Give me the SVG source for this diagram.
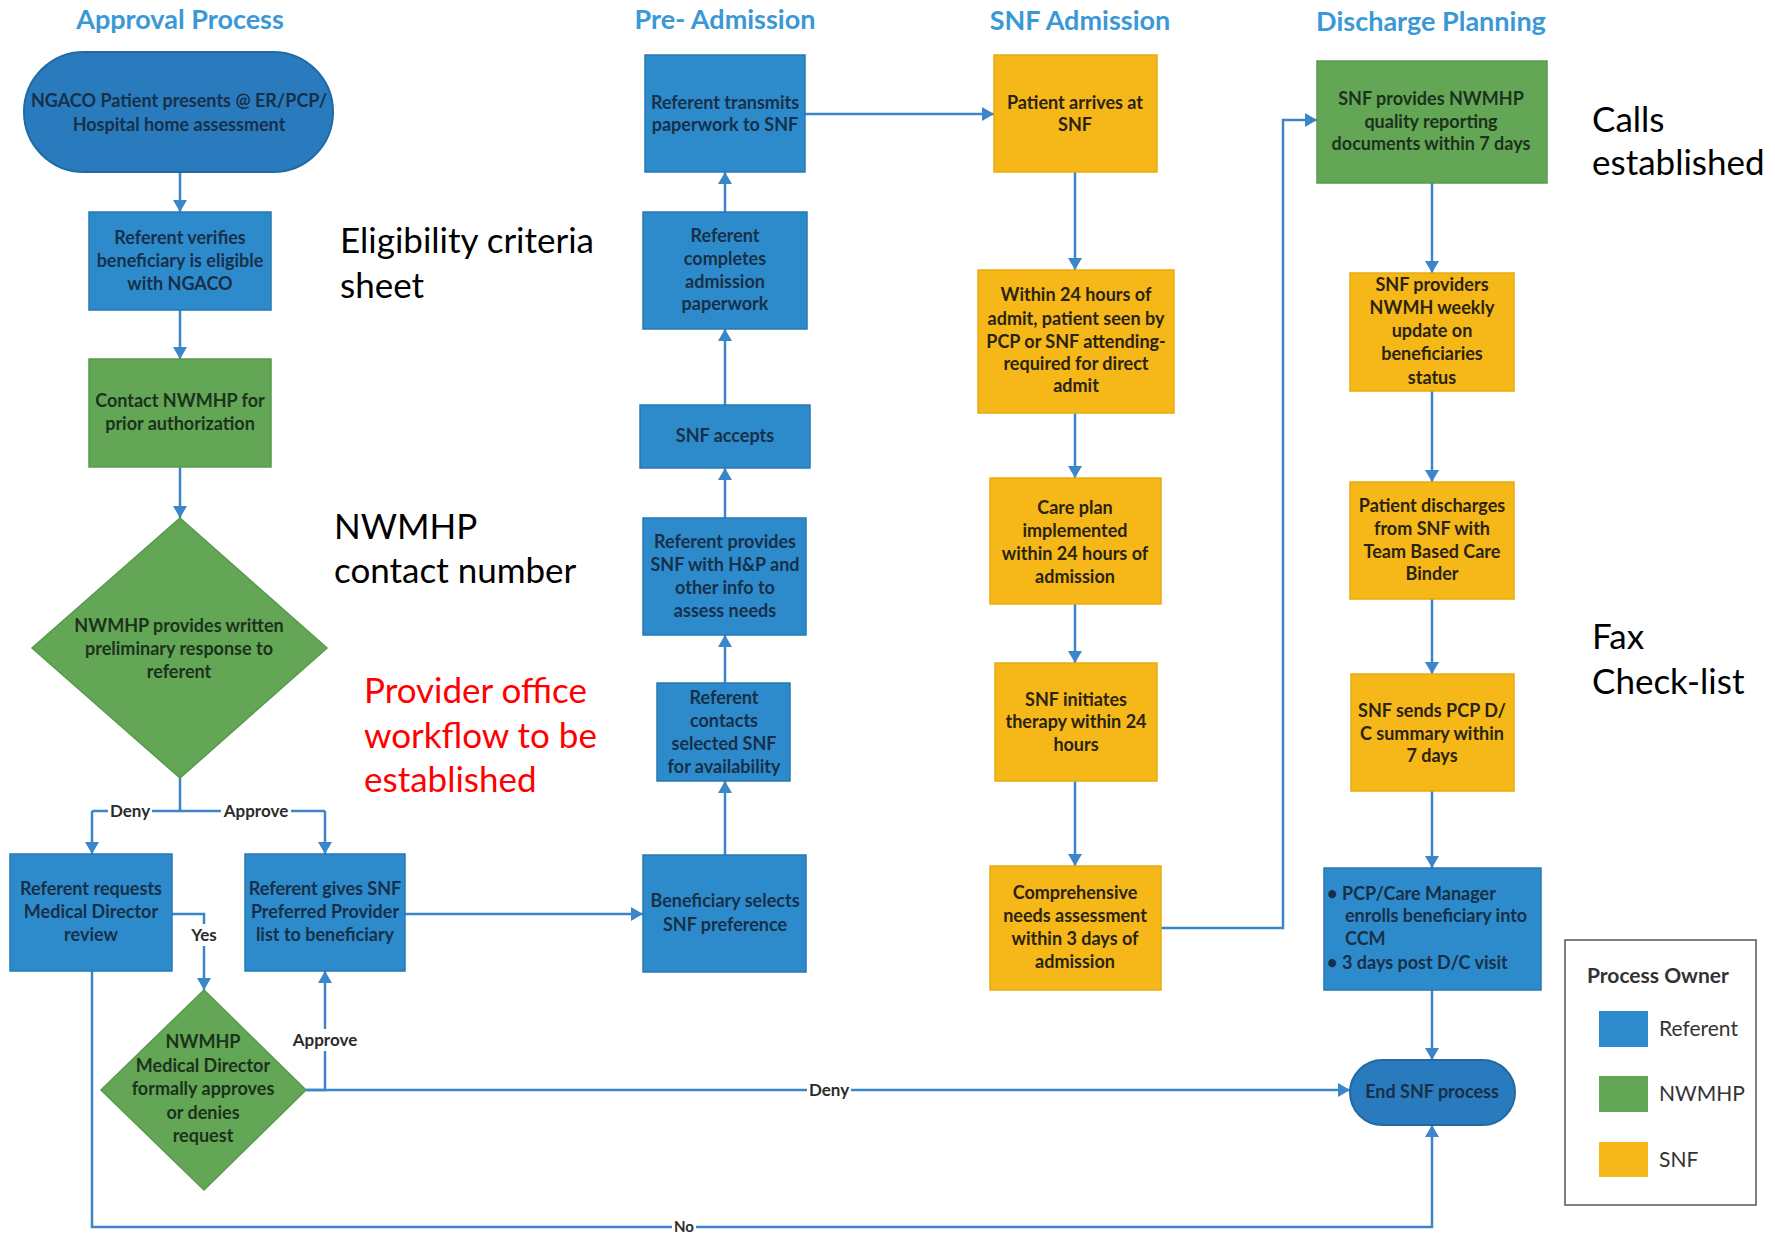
<svg xmlns="http://www.w3.org/2000/svg" width="1775" height="1236" viewBox="0 0 1775 1236">
<style>
.bg{fill:#ffffff}
.ref{fill:#2d8bcb;stroke:#2779b3;stroke-width:1.5}
.term{fill:#2a7bbd;stroke:#1f6aa5;stroke-width:2}
.nw{fill:#62a656;stroke:#58994d;stroke-width:1.5}
.snf{fill:#f6b818;stroke:#e8ab10;stroke-width:1.5}
.t{font-family:Lato,"Liberation Sans",sans-serif;font-size:18px;font-weight:bold;text-anchor:middle}
.tb{fill:#17304a}
.tg{fill:#1c321c}
.ty{fill:#2a2310}
.hdr{font-family:Lato,"Liberation Sans",sans-serif;font-size:27px;font-weight:bold;fill:#3b98d6;text-anchor:middle}
.ann{font-family:Lato,"Liberation Sans",sans-serif;font-size:35px;fill:#000000}
.red{fill:#ff0000}
.ln{fill:none;stroke:#3a86c8;stroke-width:2.5}
.arr{marker-end:url(#ah)}
.lbl{font-family:Lato,"Liberation Sans",sans-serif;font-size:17px;font-weight:bold;fill:#2b2b2b;text-anchor:middle}
.lblbg{fill:#ffffff}
.leg{font-family:Lato,"Liberation Sans",sans-serif;fill:#333333}
</style>
<defs>
<marker id="ah" viewBox="0 0 12 14" refX="12" refY="7" markerWidth="12" markerHeight="14" markerUnits="userSpaceOnUse" orient="auto">
<path d="M0,0 L12,7 L0,14 z" fill="#3a86c8"/>
</marker>
</defs>
<rect class="bg" x="0" y="0" width="1775" height="1236"/>

<g id="headers">
<text class="hdr" x="180" y="29">Approval Process</text>
<text class="hdr" x="725" y="29">Pre- Admission</text>
<text class="hdr" x="1080" y="30">SNF Admission</text>
<text class="hdr" x="1431" y="31">Discharge Planning</text>
</g>

<g id="connectors">
<path class="ln arr" d="M180,172 V212"/>
<path class="ln arr" d="M180,310 V359"/>
<path class="ln arr" d="M180,467 V518"/>
<path class="ln" d="M180,778 V811 M92,811 H325"/>
<path class="ln arr" d="M92,811 V854"/>
<path class="ln arr" d="M325,811 V854"/>
<path class="ln arr" d="M172,914 H204 V990"/>
<path class="ln arr" d="M306,1090 H325 V971"/>
<path class="ln arr" d="M306,1090 H1350"/>
<path class="ln arr" d="M92,971 V1227 H1432 V1125"/>
<path class="ln arr" d="M405,914 H643"/>
<path class="ln arr" d="M725,855 V781"/>
<path class="ln arr" d="M725,683 V635"/>
<path class="ln arr" d="M725,518 V468"/>
<path class="ln arr" d="M725,405 V329"/>
<path class="ln arr" d="M725,212 V172"/>
<path class="ln arr" d="M805,114 H994"/>
<path class="ln arr" d="M1075,172 V270"/>
<path class="ln arr" d="M1075,413 V478"/>
<path class="ln arr" d="M1075,604 V663"/>
<path class="ln arr" d="M1075,781 V866"/>
<path class="ln arr" d="M1161,928 H1283 V120 H1317"/>
<path class="ln arr" d="M1432,183 V273"/>
<path class="ln arr" d="M1432,391 V482"/>
<path class="ln arr" d="M1432,599 V674"/>
<path class="ln arr" d="M1432,791 V868"/>
<path class="ln arr" d="M1432,990 V1060"/>
<rect class="lblbg" x="108" y="800" width="44" height="22"/>
<text class="lbl" x="130" y="817">Deny</text>
<rect class="lblbg" x="221" y="800" width="70" height="22"/>
<text class="lbl" x="256" y="817">Approve</text>
<rect class="lblbg" x="188" y="924" width="32" height="22"/>
<text class="lbl" x="204" y="941">Yes</text>
<rect class="lblbg" x="290" y="1029" width="70" height="22"/>
<text class="lbl" x="325" y="1046">Approve</text>
<rect class="lblbg" x="807" y="1079" width="44" height="22"/>
<text class="lbl" x="829" y="1096">Deny</text>
<rect class="lblbg" x="672" y="1220" width="24" height="14"/>
<text class="lbl" x="684" y="1232" style="font-size:15px">No</text>
</g>

<g id="n-start">
<rect class="term" x="24" y="52" width="309" height="120" rx="60" ry="60"/>
<text class="t tb" x="179" y="107">NGACO Patient presents @ ER/PCP/</text>
<text class="t tb" x="179" y="131">Hospital home assessment</text>
</g>
<g id="n-verify">
<rect class="ref" x="89" y="212" width="182" height="98"/>
<text class="t tb" x="180" y="244">Referent verifies</text>
<text class="t tb" x="180" y="267">beneficiary is eligible</text>
<text class="t tb" x="180" y="290">with NGACO</text>
</g>
<g id="n-contact">
<rect class="nw" x="89" y="359" width="182" height="108"/>
<text class="t tg" x="180" y="407">Contact NWMHP for</text>
<text class="t tg" x="180" y="430">prior authorization</text>
</g>
<g id="n-prelim">
<polygon class="nw" points="180,518 327,648 180,778 32,648"/>
<text class="t tg" x="179" y="632">NWMHP provides written</text>
<text class="t tg" x="179" y="655">preliminary response to</text>
<text class="t tg" x="179" y="678">referent</text>
</g>
<g id="n-mdreview">
<rect class="ref" x="10" y="854" width="162" height="117"/>
<text class="t tb" x="91" y="895">Referent requests</text>
<text class="t tb" x="91" y="918">Medical Director</text>
<text class="t tb" x="91" y="941">review</text>
</g>
<g id="n-giveslist">
<rect class="ref" x="245" y="854" width="160" height="117"/>
<text class="t tb" x="325" y="895">Referent gives SNF</text>
<text class="t tb" x="325" y="918">Preferred Provider</text>
<text class="t tb" x="325" y="941">list to beneficiary</text>
</g>
<g id="n-mddecision">
<polygon class="nw" points="204,990 306,1090 204,1190 101,1090"/>
<text class="t tg" x="203" y="1048">NWMHP</text>
<text class="t tg" x="203" y="1072">Medical Director</text>
<text class="t tg" x="203" y="1095">formally approves</text>
<text class="t tg" x="203" y="1119">or denies</text>
<text class="t tg" x="203" y="1142">request</text>
</g>

<g id="n-transmits">
<rect class="ref" x="645" y="55" width="160" height="117"/>
<text class="t tb" x="725" y="109">Referent transmits</text>
<text class="t tb" x="725" y="131">paperwork to SNF</text>
</g>
<g id="n-completes">
<rect class="ref" x="643" y="212" width="164" height="117"/>
<text class="t tb" x="725" y="242">Referent</text>
<text class="t tb" x="725" y="265">completes</text>
<text class="t tb" x="725" y="288">admission</text>
<text class="t tb" x="725" y="310">paperwork</text>
</g>
<g id="n-accepts">
<rect class="ref" x="640" y="405" width="170" height="63"/>
<text class="t tb" x="725" y="442">SNF accepts</text>
</g>
<g id="n-provides">
<rect class="ref" x="643" y="518" width="163" height="117"/>
<text class="t tb" x="725" y="548">Referent provides</text>
<text class="t tb" x="725" y="571">SNF with H&amp;P and</text>
<text class="t tb" x="725" y="594">other info to</text>
<text class="t tb" x="725" y="617">assess needs</text>
</g>
<g id="n-contacts">
<rect class="ref" x="657" y="683" width="133" height="98"/>
<text class="t tb" x="724" y="704">Referent</text>
<text class="t tb" x="724" y="727">contacts</text>
<text class="t tb" x="724" y="750">selected SNF</text>
<text class="t tb" x="724" y="773">for availability</text>
</g>
<g id="n-selects">
<rect class="ref" x="643" y="855" width="163" height="117"/>
<text class="t tb" x="725" y="907">Beneficiary selects</text>
<text class="t tb" x="725" y="931">SNF preference</text>
</g>

<g id="n-arrives">
<rect class="snf" x="994" y="55" width="163" height="117"/>
<text class="t ty" x="1075" y="109">Patient arrives at</text>
<text class="t ty" x="1075" y="131">SNF</text>
</g>
<g id="n-within24">
<rect class="snf" x="978" y="270" width="196" height="143"/>
<text class="t ty" x="1076" y="301">Within 24 hours of</text>
<text class="t ty" x="1076" y="325">admit, patient seen by</text>
<text class="t ty" x="1076" y="348">PCP or SNF attending-</text>
<text class="t ty" x="1076" y="370">required for direct</text>
<text class="t ty" x="1076" y="392">admit</text>
</g>
<g id="n-careplan">
<rect class="snf" x="990" y="478" width="171" height="126"/>
<text class="t ty" x="1075" y="514">Care plan</text>
<text class="t ty" x="1075" y="537">implemented</text>
<text class="t ty" x="1075" y="560">within 24 hours of</text>
<text class="t ty" x="1075" y="583">admission</text>
</g>
<g id="n-therapy">
<rect class="snf" x="995" y="663" width="162" height="118"/>
<text class="t ty" x="1076" y="706">SNF initiates</text>
<text class="t ty" x="1076" y="728">therapy within 24</text>
<text class="t ty" x="1076" y="751">hours</text>
</g>
<g id="n-comprehensive">
<rect class="snf" x="990" y="866" width="171" height="124"/>
<text class="t ty" x="1075" y="899">Comprehensive</text>
<text class="t ty" x="1075" y="922">needs assessment</text>
<text class="t ty" x="1075" y="945">within 3 days of</text>
<text class="t ty" x="1075" y="968">admission</text>
</g>

<g id="n-quality">
<rect class="nw" x="1317" y="61" width="230" height="122"/>
<text class="t tg" x="1431" y="105">SNF provides NWMHP</text>
<text class="t tg" x="1431" y="128">quality reporting</text>
<text class="t tg" x="1431" y="150">documents within 7 days</text>
</g>
<g id="n-weekly">
<rect class="snf" x="1350" y="273" width="164" height="118"/>
<text class="t ty" x="1432" y="291">SNF providers</text>
<text class="t ty" x="1432" y="314">NWMH weekly</text>
<text class="t ty" x="1432" y="337">update on</text>
<text class="t ty" x="1432" y="360">beneficiaries</text>
<text class="t ty" x="1432" y="384">status</text>
</g>
<g id="n-discharges">
<rect class="snf" x="1350" y="482" width="164" height="117"/>
<text class="t ty" x="1432" y="512">Patient discharges</text>
<text class="t ty" x="1432" y="535">from SNF with</text>
<text class="t ty" x="1432" y="558">Team Based Care</text>
<text class="t ty" x="1432" y="580">Binder</text>
</g>
<g id="n-dcsummary">
<rect class="snf" x="1351" y="674" width="163" height="117"/>
<text class="t ty" x="1432" y="717">SNF sends PCP D/</text>
<text class="t ty" x="1432" y="740">C summary within</text>
<text class="t ty" x="1432" y="762">7 days</text>
</g>
<g id="n-ccm">
<rect class="ref" x="1324" y="868" width="217" height="122"/>
<text class="t tb" style="text-anchor:start" x="1327" y="900">•</text>
<text class="t tb" style="text-anchor:start" x="1342" y="900">PCP/Care Manager</text>
<text class="t tb" style="text-anchor:start" x="1345" y="922">enrolls beneficiary into</text>
<text class="t tb" style="text-anchor:start" x="1345" y="945">CCM</text>
<text class="t tb" style="text-anchor:start" x="1327" y="969">•</text>
<text class="t tb" style="text-anchor:start" x="1342" y="969">3 days post D/C visit</text>
</g>
<g id="n-end">
<rect class="term" x="1350" y="1060" width="165" height="65" rx="32.5" ry="32.5"/>
<text class="t tb" x="1432" y="1098">End SNF process</text>
</g>

<g id="annotations">
<text class="ann" x="340" y="253">Eligibility criteria</text>
<text class="ann" x="340" y="298">sheet</text>
<text class="ann" x="334" y="539">NWMHP</text>
<text class="ann" x="334" y="583">contact number</text>
<text class="ann red" x="364" y="703">Provider office</text>
<text class="ann red" x="364" y="748">workflow to be</text>
<text class="ann red" x="364" y="792">established</text>
<text class="ann" x="1592" y="132">Calls</text>
<text class="ann" x="1592" y="175">established</text>
<text class="ann" x="1592" y="649">Fax</text>
<text class="ann" x="1592" y="694">Check-list</text>
</g>

<g id="legend">
<rect x="1565" y="940" width="191" height="265" fill="#ffffff" stroke="#555555" stroke-width="1.5"/>
<text class="leg" x="1587" y="983" style="font-size:21px;font-weight:bold">Process Owner</text>
<rect x="1599" y="1011" width="49" height="36" fill="#2d8bcb"/>
<text class="leg" x="1659" y="1036" style="font-size:21px">Referent</text>
<rect x="1599" y="1076" width="49" height="36" fill="#62a656"/>
<text class="leg" x="1659" y="1101" style="font-size:21px">NWMHP</text>
<rect x="1599" y="1142" width="49" height="35" fill="#f6b818"/>
<text class="leg" x="1659" y="1167" style="font-size:21px">SNF</text>
</g>
</svg>
